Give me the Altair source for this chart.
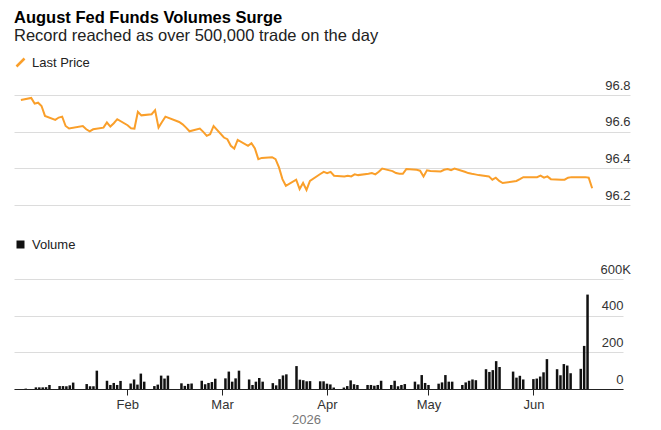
import altair as alt
import pandas as pd

FONT = "Liberation Sans"
ORANGE = "#fa9f2a"

# Trading days (CME), Jan 2 - Jun 17 2026, excluding exchange holidays
holidays = ["2026-01-19", "2026-02-16", "2026-05-25"]
dates = [d.strftime("%Y-%m-%d") for d in pd.bdate_range("2026-01-02", "2026-06-17")
         if d.strftime("%Y-%m-%d") not in holidays]

price_jan = [96.773, 96.784, 96.753, 96.758, 96.740, 96.686, 96.664, 96.677, 96.682, 96.631,
             96.617, 96.631, 96.613, 96.602, 96.613, 96.622, 96.650, 96.628, 96.646, 96.668]
price_feb = [96.635, 96.619, 96.617, 96.708, 96.689, 96.695, 96.717, 96.622, 96.653, 96.682,
             96.653, 96.640, 96.622, 96.602, 96.617, 96.599, 96.577, 96.586, 96.631]
price_mar = [96.568, 96.559, 96.523, 96.508, 96.555, 96.523, 96.537, 96.508, 96.450, 96.457,
             96.461, 96.450, 96.405, 96.341, 96.305, 96.338, 96.287, 96.320, 96.282, 96.332,
             96.369, 96.381]
price_apr = [96.374, 96.381, 96.360, 96.356, 96.360, 96.356, 96.367, 96.363, 96.370, 96.374,
             96.367, 96.381, 96.399, 96.385, 96.374, 96.370, 96.370, 96.396, 96.392, 96.387,
             96.356, 96.389]
price_may = [96.385, 96.383, 96.392, 96.396, 96.390, 96.399, 96.381, 96.374, 96.370, 96.367,
             96.363, 96.356, 96.338, 96.349, 96.331, 96.320, 96.331, 96.341, 96.352, 96.352]
price_jun = [96.352, 96.360, 96.349, 96.356, 96.341, 96.338, 96.338, 96.349, 96.352, 96.352,
             96.352, 96.349, 96.291]

vol_jan = [2, 9, 9, 9, 10, 22, 16, 16, 15, 20, 35, 27, 15, 15, 100, 45, 22, 33, 22, 44]
vol_feb = [30, 52, 24, 84, 40, 16, 24, 73, 57, 73, 31, 17, 28, 30, 45, 26, 33, 38, 56]
vol_mar = [58, 95, 40, 58, 100, 52, 22, 40, 60, 40, 32, 20, 54, 74, 80, 125, 51, 48, 42, 43,
           42, 42]
vol_apr = [29, 25, 8, 8, 16, 47, 26, 22, 22, 22, 18, 22, 45, 22, 45, 15, 22, 27, 40, 25, 76, 33]
vol_may = [22, 29, 36, 76, 40, 40, 22, 36, 45, 52, 48, 108, 93, 103, 152, 120, 95, 62, 72, 52]
vol_jun = [54, 57, 68, 91, 163, 108, 75, 136, 128, 86, 110, 235, 515]

price_ticks = [96.2, 96.4, 96.6, 96.8]
volume_ticks = [0, 200000, 400000, 600000]
month_ticks = [2, 3, 4, 5, 6]

prices = price_jan + price_feb + price_mar + price_apr + price_may + price_jun
volumes = [v * 1000 for v in vol_jan + vol_feb + vol_mar + vol_apr + vol_may + vol_jun]
assert len(prices) == len(dates) == len(volumes)

df = pd.DataFrame({"date": dates, "price": prices, "volume": volumes,
                   "s1": "Last Price", "s2": "Volume"})


def dt(y, m, d):
    return alt.DateTime(year=y, month=m, date=d, utc=True)


top = alt.Chart(df).mark_line(strokeWidth=2).encode(
    x=alt.X("date:T", scale=alt.Scale(type="utc", domain=[dt(2025, 12, 31), dt(2026, 6, 28)]),
            axis=None),
    y=alt.Y("price:Q", scale=alt.Scale(domain=[96.2, 96.8], zero=False, nice=False),
            axis=alt.Axis(orient="right", values=price_ticks, format=".1f", title=None,
                          domain=False, ticks=False, tickSize=0, labelAlign="right",
                          labelBaseline="bottom", labelPadding=0, labelOffset=-3,
                          gridColor="#dcdcdc", labelFontSize=13, labelColor="#333333")),
    color=alt.Color("s1:N", scale=alt.Scale(range=[ORANGE]),
                    legend=alt.Legend(title=None, orient="none", legendX=0, legendY=-39,
                                      symbolType="M-1,1L1,-1", symbolStrokeWidth=2.5,
                                      symbolSize=64, labelFontSize=13, labelColor="#222222",
                                      labelOffset=5)),
).properties(width=616, height=110)

bottom = alt.Chart(df).mark_bar(size=2.5).encode(
    x=alt.X("date:T", scale=alt.Scale(type="utc", domain=[dt(2025, 12, 31), dt(2026, 6, 26)]),
            axis=alt.Axis(values=[dt(2026, m, 1) for m in month_ticks], format="%b",
                          title="2026", grid=False, domainColor="#222222", tickColor="#222222",
                          tickSize=6, labelPadding=3, labelFontSize=13, labelColor="#333333",
                          titleX=292, titleY=30, titleAlign="center", titleBaseline="middle",
                          titleFontWeight="normal", titleColor="#777777", titleFontSize=13)),
    y=alt.Y("volume:Q", scale=alt.Scale(domain=[0, 600000], nice=False),
            axis=alt.Axis(orient="right", values=volume_ticks, title=None,
                          labelExpr="datum.value == 600000 ? '600K' : format(datum.value / 1000, 'd')",
                          domain=False, ticks=False, tickSize=0,
                          labelAlign={"condition": {"test": "datum.value == 600000", "value": "left"},
                                      "value": "right"},
                          labelPadding={"condition": {"test": "datum.value == 600000", "value": -23},
                                        "value": 0},
                          labelBaseline="bottom", labelOffset=-3, gridColor="#dcdcdc",
                          labelFontSize=13, labelColor="#333333")),
    color=alt.Color("s2:N", scale=alt.Scale(range=["#111111"]),
                    legend=alt.Legend(title=None, orient="none", legendX=0, legendY=-41,
                                      symbolType="square", symbolSize=64, symbolStrokeWidth=0,
                                      labelFontSize=13, labelColor="#222222", labelOffset=5)),
).properties(width=609, height=110)

chart = alt.vconcat(top, bottom, spacing=74, bounds="flush").resolve_scale(
    x="independent", color="independent"
).properties(
    title=alt.TitleParams(text="August Fed Funds Volumes Surge",
                          subtitle="Record reached as over 500,000 trade on the day",
                          anchor="start", fontSize=16.5, subtitleFontSize=16.5, font=FONT,
                          subtitleFont=FONT, color="#000000", subtitleColor="#222222",
                          fontWeight="bold", subtitlePadding=1, offset=12),
    padding={"left": 6, "top": 2, "right": 10, "bottom": 5},
).configure_view(stroke=None).configure_axis(
    labelFont=FONT, titleFont=FONT
).configure_legend(labelFont=FONT)

chart.save("out.html", embed_options={"renderer": "svg", "actions": False})
